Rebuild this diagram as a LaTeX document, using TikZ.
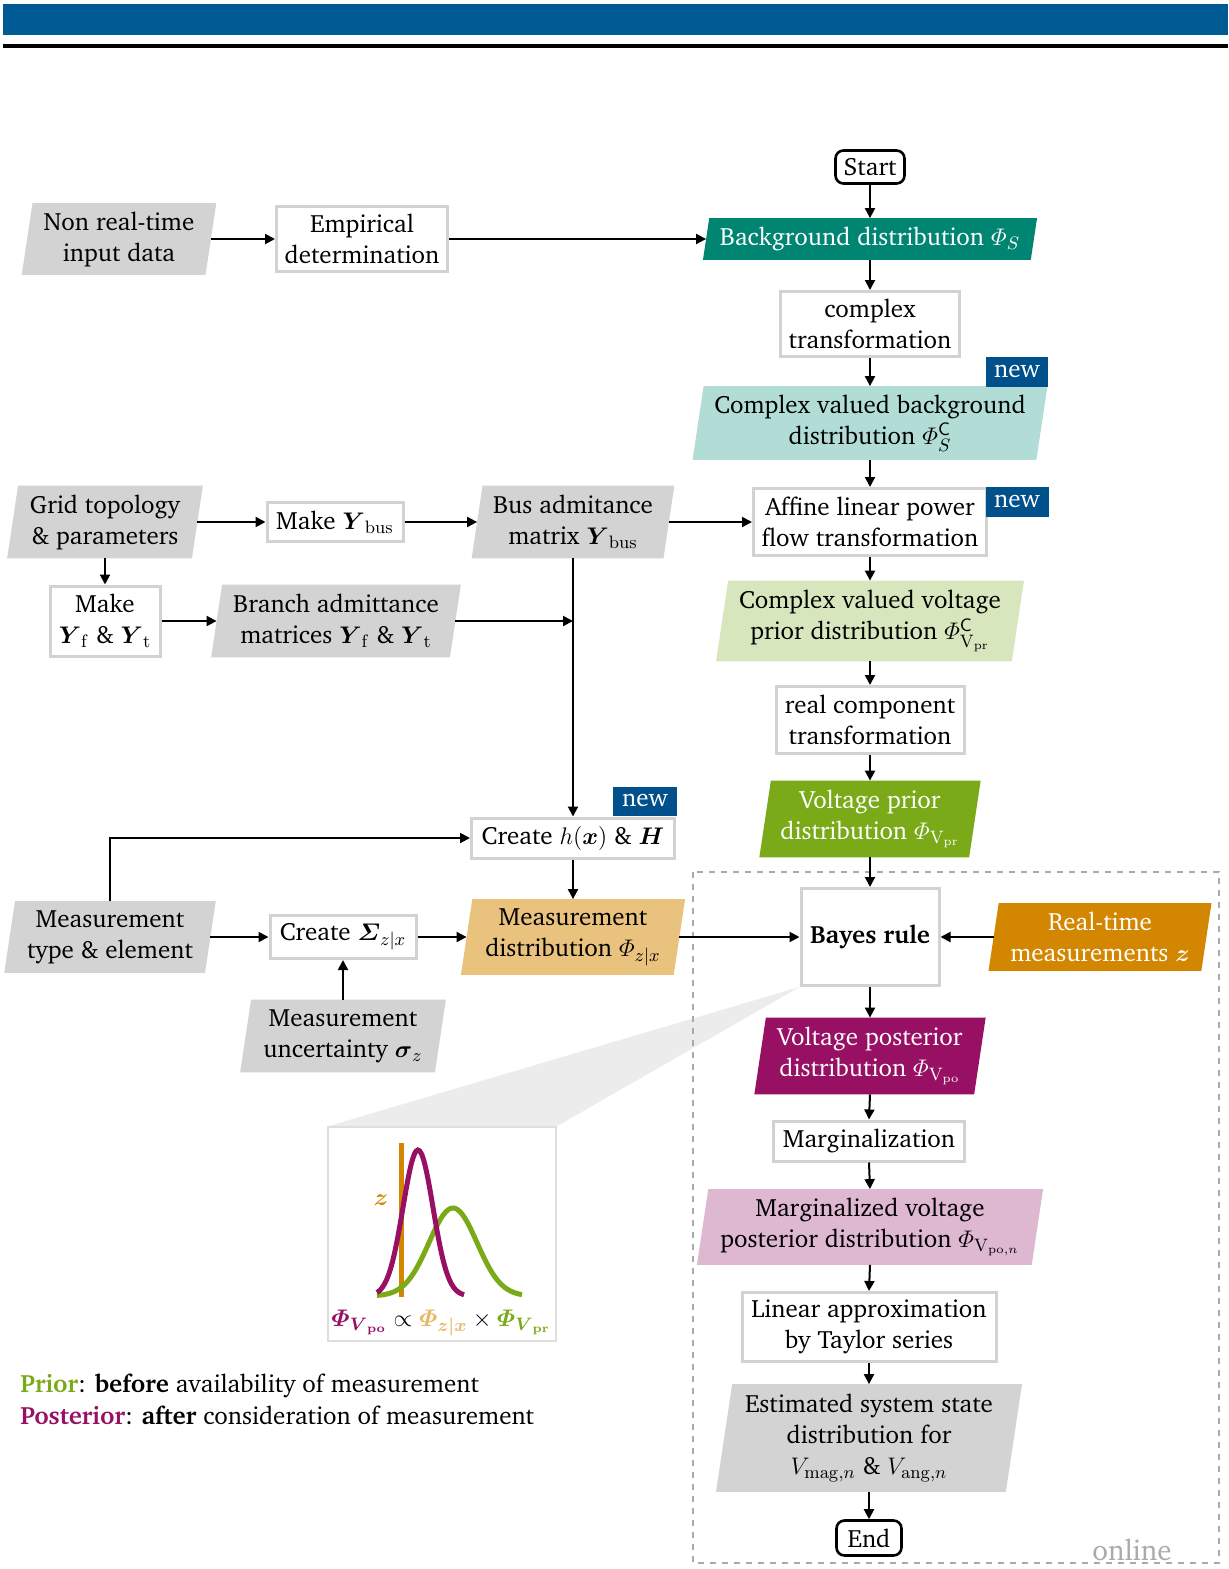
\documentclass[tikz,border=0pt]{standalone}
\usepackage{amsmath}
\usepackage[T1]{fontenc}
\usepackage{charter}
\usetikzlibrary{arrows.meta,calc,backgrounds}

\definecolor{barblue}{RGB}{0,90,148}
\definecolor{newblue}{RGB}{0,80,140}
\definecolor{tealD}{RGB}{0,133,115}
\definecolor{tealL}{RGB}{178,220,214}
\definecolor{greenL}{RGB}{216,230,190}
\definecolor{greenD}{RGB}{122,170,24}
\definecolor{magD}{RGB}{152,16,100}
\definecolor{magL}{RGB}{222,183,208}
\definecolor{grayF}{RGB}{211,211,211}
\definecolor{orangeD}{RGB}{211,135,0}
\definecolor{orangeL}{RGB}{233,194,126}
\definecolor{orangeM}{RGB}{233,184,100}
\definecolor{boxgray}{RGB}{210,210,210}
\definecolor{wedgegray}{RGB}{236,236,236}
\definecolor{dashgray}{RGB}{170,170,170}
\definecolor{insetgray}{RGB}{222,222,222}

\newcommand{\Ph}{\varPhi}

\begin{document}
\begin{tikzpicture}[x=0.5pt,y=-0.5pt,
  font=\fontsize{12.5}{15.5}\selectfont,
  arr/.style={-{Triangle[length=5pt,width=5pt]}, line width=1pt},
  wbox/.style={draw=boxgray, line width=1.5pt, fill=white, inner sep=0pt, align=center},
  pnode/.style={inner sep=0pt, align=center},
  term/.style={draw=black, line width=1.3pt, rounded corners=4pt, fill=white, inner sep=0pt},
  newtag/.style={fill=newblue, text=white, inner sep=0pt},
  sz/.style 2 args={minimum width=#1*0.5pt, minimum height=#2*0.5pt},
]
\useasboundingbox (0,0) rectangle (1228,1569);

% header bars
\fill[barblue] (3,4) rectangle (1228,35);
\fill[black] (3,44) rectangle (1228,48);

% ---------- main chain ----------
\node[term, sz={69}{33}] (start) at (870,167) {Start};
\node[pnode, sz={327}{41}, text=white] (bgd) at (870,239) {Background distribution $\Ph_S$};
\node[wbox, sz={179}{65}] (cplx) at (870,324) {complex\\transformation};
\node[pnode, sz={343}{73}] (bgc) at (870,423) {Complex valued background\\distribution $\Ph_S^{\mathsf{C}}$};
\node[newtag, sz={62}{30}] (new1) at (1017,372) {new};
\node[wbox, sz={233}{67}] (aff) at (870,522) {Affine linear power\\flow transformation};
\node[newtag, sz={63}{30}] (new2) at (1017,502) {new};
\node[pnode, sz={295}{80}] (vpc) at (870,621) {Complex valued voltage\\prior distribution $\Ph^{\mathsf{C}}_{\mathrm{V_{pr}}}$};
\node[wbox, sz={188}{67}] (realc) at (870,720) {real component\\transformation};
\node[pnode, sz={209}{76}, text=white] (vpr) at (870,819) {Voltage prior\\distribution $\Ph_{\mathrm{V_{pr}}}$};
\node[wbox, sz={138}{97}] (bayes) at (870,937) {\textbf{Bayes rule}};
\node[pnode, sz={212}{67}, text=white] (rt) at (1100,937) {Real-time\\measurements $\boldsymbol{z}$};
\node[pnode, sz={219}{76}, text=white] (vpo) at (870,1056) {Voltage posterior\\distribution $\Ph_{\mathrm{V_{po}}}$};
\node[wbox, sz={191}{40}] (marg) at (869,1141) {Marginalization};
\node[pnode, sz={334}{75}] (mvp) at (870,1227) {Marginalized voltage\\posterior distribution $\Ph_{\mathrm{V}_{\mathrm{po},n}}$};
\node[wbox, sz={254}{69}] (lin) at (869,1327) {Linear approximation\\by Taylor series};
\node[pnode, sz={289}{107}] (est) at (869,1438) {Estimated system state\\distribution for\\$V_{\mathrm{mag},n}$ \& $V_{\mathrm{ang},n}$};
\node[term, sz={65}{35}] (end) at (869,1538) {End};
\node[text=dashgray, font=\fontsize{14.5}{17}\selectfont, anchor=base, inner sep=0pt] (online) at (1132,1560) {online};

% ---------- left side ----------
\node[pnode, sz={183}{71}] (nrt) at (119,239) {Non real-time\\input data};
\node[wbox, sz={171}{65}] (emp) at (362,239) {Empirical\\determination};

\node[pnode, sz={184}{72}] (grid) at (105,522) {Grid topology\\\& parameters};
\node[wbox, sz={136}{39}] (mky) at (335,522) {Make $\boldsymbol{Y}_{\mathrm{bus}}$};
\node[pnode, sz={191}{72}] (bus) at (573,522) {Bus admitance\\matrix $\boldsymbol{Y}_{\mathrm{bus}}$};
\node[wbox, sz={110}{70}] (mkf) at (105,621) {Make\\$\boldsymbol{Y}_{\mathrm{f}}$ \& $\boldsymbol{Y}_{\mathrm{t}}$};
\node[pnode, sz={238}{72}] (branch) at (336,621) {Branch admittance\\matrices $\boldsymbol{Y}_{\mathrm{f}}$ \& $\boldsymbol{Y}_{\mathrm{t}}$};

\node[wbox, sz={203}{40}] (ch) at (573,838) {Create $h(\boldsymbol{x})$ \& $\boldsymbol{H}$};
\node[newtag, sz={64}{29}] (new3) at (645,801) {new};
\node[pnode, sz={200}{71}] (mte) at (110,937) {Measurement\\type \& element};
\node[wbox, sz={146}{43}] (csig) at (343,937) {Create $\boldsymbol{\varSigma}_{z|x}$};
\node[pnode, sz={212}{75}] (mdist) at (573,937) {Measurement\\distribution $\Ph_{z|x}$};
\node[pnode, sz={194}{72}] (munc) at (343,1036) {Measurement\\uncertainty $\boldsymbol{\sigma}_z$};

% ---------- Bayes inset ----------
\node[draw=insetgray, line width=0.6pt, fill=white, sz={228}{214}, inner sep=0pt] (inset) at (442,1234) {};
\draw[orangeD, line width=2.5pt] (401,1143) -- (401,1297);
\draw[greenD, line width=2.5pt] plot[domain=377:522, samples=60, smooth] (\x,{1296-88*exp(-((\x-453)^2)/1152)});
\draw[magD, line width=2.5pt] plot[domain=377:464, samples=50, smooth] (\x,{1296-146*exp(-((\x-418)^2)/450)});
\node[text=orangeD] (zl) at (381,1200) {$\boldsymbol{z}$};
\node (eq) at (441,1323) {${\color{magD}\boldsymbol{\varPhi}_{\boldsymbol{V}_{\mathbf{po}}}}\propto{\color{orangeM}\boldsymbol{\varPhi}_{\boldsymbol{z|x}}}\times{\color{greenD}\boldsymbol{\varPhi}_{\boldsymbol{V}_{\mathbf{pr}}}}$};

% ---------- legend ----------
\node[anchor=base west, inner sep=0pt] (leg1) at (20,1392) {{\color{greenD}\textbf{Prior}}: \textbf{before} availability of measurement};
\node[anchor=base west, inner sep=0pt] (leg2) at (20,1424) {{\color{magD}\textbf{Posterior}}: \textbf{after} consideration of measurement};

% ---------- connectors ----------
\foreach \a/\b in {start/bgd, bgd/cplx, cplx/bgc, bgc/aff, aff/vpc, vpc/realc, realc/vpr, vpr/bayes,
                   bayes/vpo, vpo/marg, marg/mvp, mvp/lin, lin/est, est/end}
  \draw[arr] (\a.south) -- (\b.north);
\draw[arr] (nrt.east) -- (emp.west);
\draw[arr] (emp.east) -- (bgd.west);
\draw[arr] (grid.east) -- (mky.west);
\draw[arr] (mky.east) -- (bus.west);
\draw[arr] (bus.east) -- (aff.west);
\draw[arr] (grid.south) -- (mkf.north);
\draw[arr] (mkf.east) -- (branch.west);
\draw[arr] (branch.east) -- (branch.east -| bus.south);
\draw[arr] (bus.south) -- (ch.north);
\draw[arr] (ch.south) -- (mdist.north);
\draw[arr] (mte.north) |- (ch.west);
\draw[arr] (mte.east) -- (csig.west);
\draw[arr] (csig.east) -- (mdist.west);
\draw[arr] (munc.north) -- (csig.south);
\draw[arr] (mdist.east) -- (bayes.west);
\draw[arr] (rt.west) -- (bayes.east);

% ---------- background fills ----------
\begin{pgfonlayer}{background}
  \fill[wedgegray] (bayes.south west) -- (inset.north west) -- (inset.north east) -- cycle;
  \draw[dashgray, dashed, line width=0.8pt] (693,872) rectangle (1219,1563);
  \foreach \nd/\col in {bgd/tealD, bgc/tealL, vpc/greenL, vpr/greenD, rt/orangeD, vpo/magD,
                        mvp/magL, est/grayF, nrt/grayF, grid/grayF, bus/grayF, branch/grayF,
                        mte/grayF, mdist/orangeL, munc/grayF}
    \fill[\col] let \p1=(\nd.north west), \p2=(\nd.south east), \n1={0.075*(\y1-\y2)} in
      (\x1+\n1,\y1) -- (\x2+\n1,\y1) -- (\x2-\n1,\y2) -- (\x1-\n1,\y2) -- cycle;
\end{pgfonlayer}
\end{tikzpicture}
\end{document}
